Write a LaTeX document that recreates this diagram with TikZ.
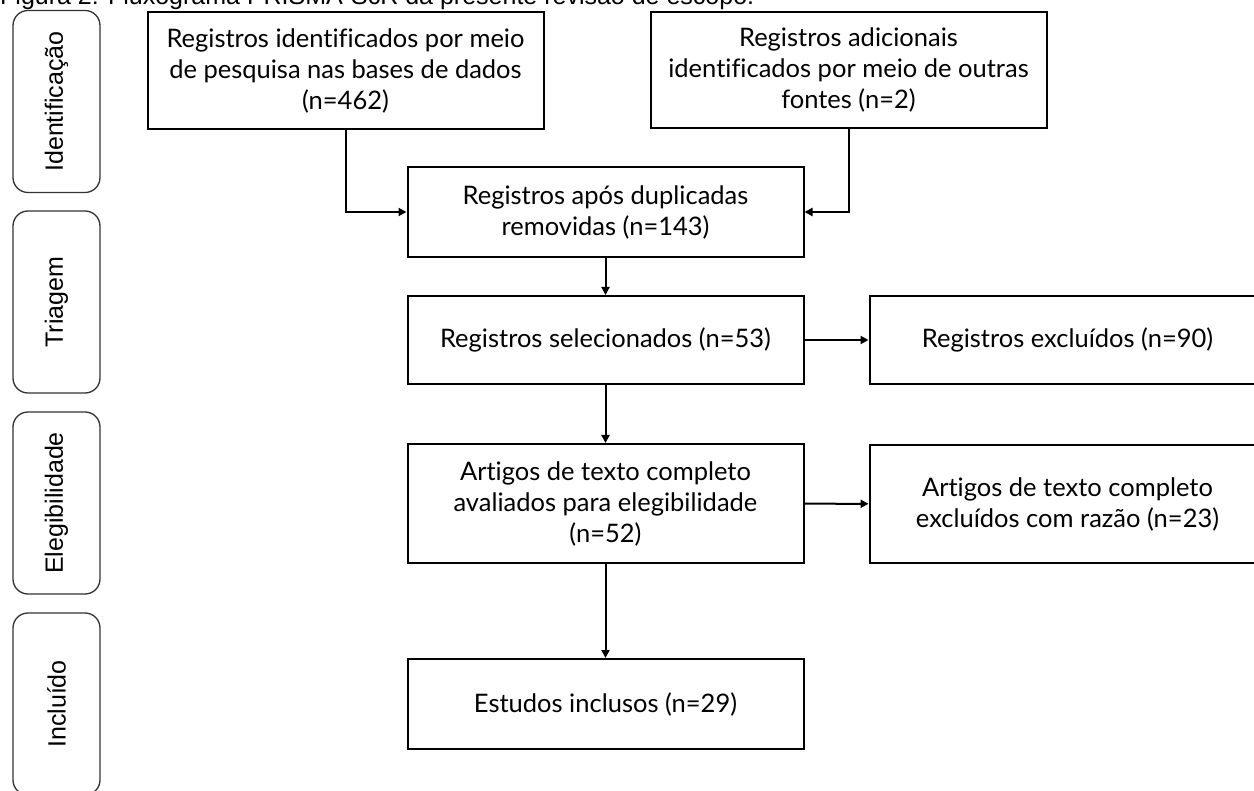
\documentclass[tikz,border=0pt]{standalone}
\usepackage{fontspec}
\setmainfont{Lato}[Ligatures={NoCommon}]
\newfontfamily\arialfont{Liberation Sans}
\usetikzlibrary{arrows.meta, positioning}

\begin{document}
\begin{tikzpicture}[
    x=1pt, y=-1pt,
    >={Triangle[length=8pt, width=8pt]},
    stagebox/.style={rectangle, draw=black, line width=2pt, minimum width=396pt, minimum height=#1, align=center, inner sep=0pt, font=\fontsize{25.5}{31}\selectfont},
    stagebox/.default=90pt,
    phasebox/.style={rectangle, rounded corners=15pt, draw=black!80, line width=1.3pt, rotate=90, minimum width=182pt, minimum height=87pt, inner sep=0pt, font=\arialfont\fontsize{25}{30}\selectfont},
    arrow/.style={->, line width=2pt}
]
\useasboundingbox (0,0) rectangle (1254,791);
\clip (0,0) rectangle (1254,791);

% Caption (cut at the top)
\node[anchor=base west, inner sep=0pt, font=\arialfont\fontsize{25}{30}\selectfont] (caption) at (0,4.5) {Figura 2: Fluxograma PRISMA-ScR da presente revisão de escopo.};

% Phase labels
\node[phasebox] (ph1) at (56.5,101.5) {Identificação};
\node[phasebox] (ph2) at (56.5,302) {Triagem};
\node[phasebox] (ph3) at (56.5,503) {Elegibilidade};
\node[phasebox] (ph4) at (56.5,704) {Incluído};

% Flow boxes
\node[stagebox=117pt] (ident) at (345.5,70.5) {Registros identificados por meio\\de pesquisa nas bases de dados\\(n=462)};
\node[stagebox=116pt] (other) at (848.5,70) {Registros adicionais\\identificados por meio de outras\\fontes (n=2)};
\node[stagebox] (dedup) at (605.5,212) {Registros após duplicadas\\removidas (n=143)};
\node[stagebox=88pt] (screen) at (605.5,340) {Registros selecionados (n=53)};
\node[stagebox=88pt] (excl) at (1067.5,340) {Registros excluídos (n=90)};
\node[stagebox=119pt] (full) at (605.5,503.5) {Artigos de texto completo\\avaliados para elegibilidade\\(n=52)};
\node[stagebox=118pt] (fullexcl) at (1067.5,504) {Artigos de texto completo\\excluídos com razão (n=23)};
\node[stagebox] (incl) at (605.5,704) {Estudos inclusos (n=29)};

% Arrows
\draw[arrow] (ident.south) |- (dedup.west);
\draw[arrow] (other.south) |- (dedup.east);
\draw[arrow] (dedup) -- (screen);
\draw[arrow] (screen) -- (excl);
\draw[arrow] (screen) -- (full);
\draw[arrow] (full) -- (fullexcl);
\draw[arrow] (full) -- (incl);

\end{tikzpicture}
\end{document}
